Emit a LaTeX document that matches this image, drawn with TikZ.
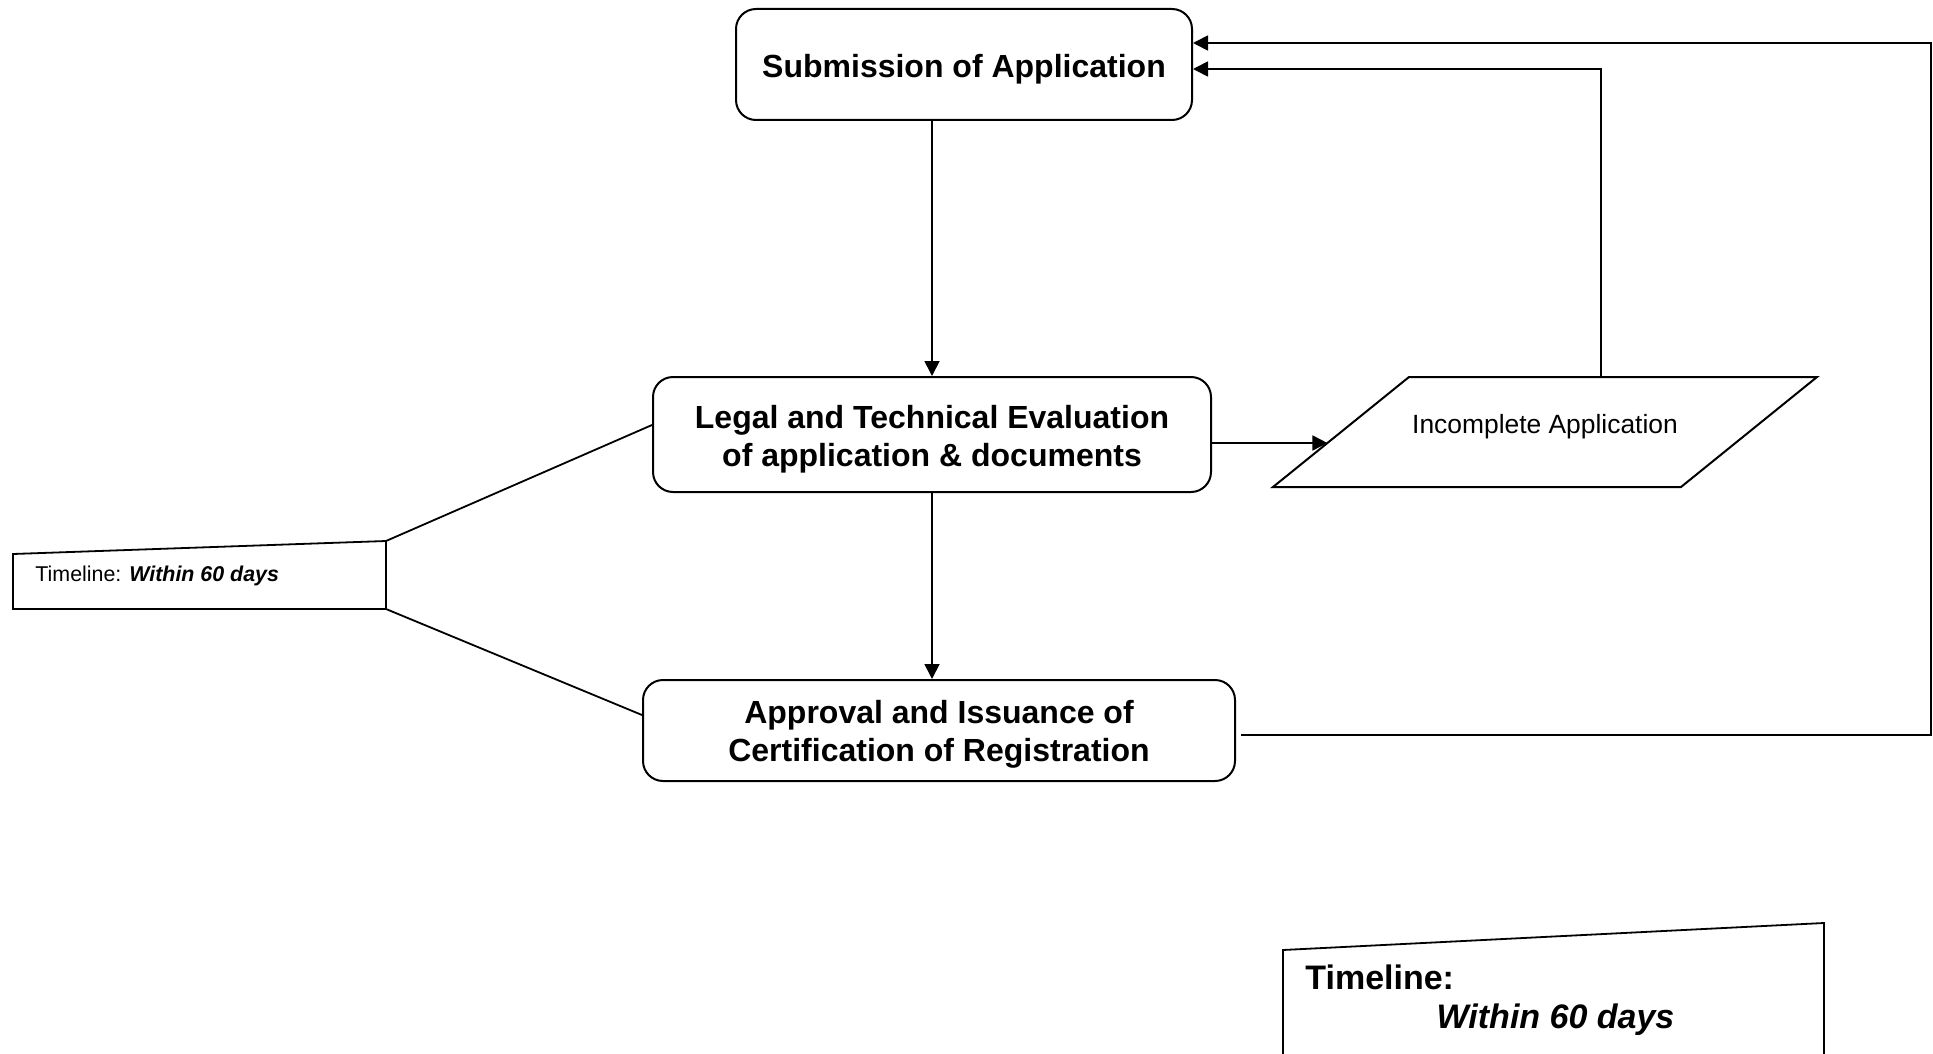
\documentclass[tikz,border=0pt]{standalone}
\usepackage{fontspec}
\setmainfont{Liberation Sans}
\usetikzlibrary{arrows.meta,calc}

\begin{document}
\begin{tikzpicture}[x=0.5pt, y=-0.5pt,
        stage/.style={draw, line width=1pt, rounded corners=10pt, inner sep=0pt},
        stagetext/.style={align=center, inner sep=0pt, font=\fontsize{16}{19}\selectfont\bfseries},
        flow/.style={line width=0.9pt},
        arr/.style={flow, -{Triangle[length=7.5pt,width=7.5pt]}}]
            \useasboundingbox (0,0) rectangle (1933,1054);

            % Stages
            \node[stage, minimum width=228pt, minimum height=55.5pt,
                label={[stagetext, yshift=-2.5pt]center:Submission of Application}] (submission) at (964,64.5) {};
            \node[stage, minimum width=279pt, minimum height=57.5pt,
                label={[stagetext, yshift=-2.5pt]center:Legal and Technical Evaluation\\of application \& documents}] (legal) at (932,434.5) {};
            \node[stage, minimum width=296pt, minimum height=50.5pt,
                label={[stagetext, yshift=-2pt]center:Approval and Issuance of\\Certification of Registration}] (approval) at (939,730.5) {};

            % Incomplete application (parallelogram)
            \coordinate (incBL) at (1273,487);
            \coordinate (incTL) at (1409,377);
            \coordinate (incTR) at (1817,377);
            \coordinate (incBR) at (1681,487);
            \draw[line width=1pt] (incBL) -- (incTL) -- (incTR) -- (incBR) -- cycle;
            \node[inner sep=0pt, font=\fontsize{13.2}{16}\selectfont] (incomplete) at (1545,427) {Incomplete Application};

            % Timeline note
            \coordinate (noteTL) at (13,554);
            \coordinate (noteTR) at (386,541);
            \coordinate (noteBR) at (386,609);
            \coordinate (noteBL) at (13,609);
            \draw[flow] (noteTL) -- (noteTR) -- (noteBR) -- (noteBL) -- cycle;
            \node[anchor=base west, inner sep=0pt, font=\fontsize{10.7}{13}\selectfont] (note) at (35,581) {Timeline: \textbf{\textit{Within 60 days}}};
            \draw[flow] (noteTR) -- ([yshift=4.75pt]legal.west);
            \draw[flow] (noteBR) -- ([yshift=7.75pt]approval.west);

            % Flow
            \draw[arr] (legal.north |- submission.south) -- (legal.north);
            \draw[arr] (legal.south) -- (legal.south |- approval.north);
            \coordinate (hit) at ($(incBL)!0.4!(incTL)$);
            \draw[arr] (legal.east |- hit) -- (hit);
            \coordinate (up) at ($(incTL)!0.47!(incTR)$);
            \draw[arr] (up) |- ([yshift=-2.25pt]submission.east);
            \coordinate (rail) at (1931,43);
            \draw[arr] ([xshift=2.5pt,yshift=-2.25pt]approval.east) -| (rail) -- ([yshift=10.75pt]submission.east);

            % Bottom timeline box
            \coordinate (boxBL) at (1283,1054);
            \coordinate (boxTL) at (1283,950);
            \coordinate (boxTR) at (1824,923);
            \coordinate (boxBR) at (1824,1054);
            \draw[flow] (boxBL) -- (boxTL) -- (boxTR) -- (boxBR);
            \node[anchor=base west, inner sep=0pt, font=\fontsize{17}{20}\selectfont\bfseries] (deadline) at (1305,989) {Timeline:};
            \node[anchor=base, inner sep=0pt, font=\fontsize{17}{20}\selectfont\bfseries\itshape] (days) at (1555.5,1028) {Within 60 days};
        \end{tikzpicture}
\end{document}
